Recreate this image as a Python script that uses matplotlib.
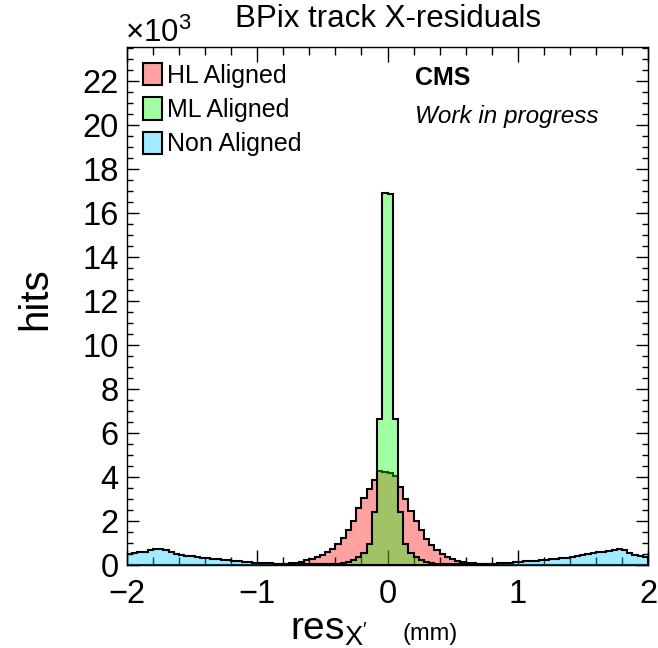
import numpy as np
import matplotlib
matplotlib.use("Agg")
import matplotlib.pyplot as plt
from matplotlib.patches import Patch
from matplotlib.ticker import MultipleLocator

plt.rcParams['font.family'] = ['Liberation Sans', 'DejaVu Sans']
plt.rcParams['mathtext.fontset'] = 'custom'
plt.rcParams['mathtext.rm'] = 'Liberation Sans'
plt.rcParams['mathtext.it'] = 'Liberation Sans:italic'
plt.rcParams['mathtext.bf'] = 'Liberation Sans:bold'

# ---- data (hits, in thousands), 100 bins of 0.04 mm from -2 to 2 ----
bin_edges = np.linspace(-2.0, 2.0, 101)

hl_aligned = [
    0.002, 0.002, 0.002, 0.002, 0.002, 0.002, 0.002, 0.002, 0.002, 0.002,
    0.004, 0.004, 0.004, 0.004, 0.004, 0.004, 0.004, 0.004, 0.004, 0.004,
    0.006, 0.007, 0.008, 0.009, 0.010, 0.012, 0.015, 0.020, 0.025, 0.035,
    0.05, 0.07, 0.10, 0.15, 0.22, 0.28, 0.36, 0.45, 0.58, 0.72,
    0.95, 1.25, 1.60, 2.00, 2.60, 3.05, 3.45, 3.85, 4.29, 4.25,
    4.20, 4.05, 3.56, 3.00, 2.45, 2.00, 1.60, 1.20, 0.90, 0.68,
    0.50, 0.38, 0.28, 0.20, 0.14, 0.10, 0.07, 0.05, 0.035, 0.025,
    0.020, 0.015, 0.012, 0.010, 0.008, 0.007, 0.006, 0.006, 0.005, 0.005,
    0.004, 0.004, 0.004, 0.004, 0.004, 0.004, 0.004, 0.004, 0.004, 0.004,
    0.002, 0.002, 0.002, 0.002, 0.002, 0.002, 0.002, 0.002, 0.002, 0.002,
]

ml_aligned = [
    0.002, 0.002, 0.002, 0.002, 0.002, 0.002, 0.002, 0.002, 0.002, 0.002,
    0.002, 0.002, 0.002, 0.002, 0.002, 0.002, 0.002, 0.002, 0.002, 0.002,
    0.003, 0.003, 0.003, 0.003, 0.003, 0.003, 0.004, 0.004, 0.004, 0.004,
    0.005, 0.005, 0.005, 0.006, 0.007, 0.008, 0.010, 0.015, 0.020, 0.030,
    0.05, 0.08, 0.13, 0.22, 0.35, 0.55, 0.95, 2.40, 6.62, 16.90,
    16.85, 6.62, 2.40, 0.95, 0.55, 0.35, 0.22, 0.13, 0.08, 0.05,
    0.030, 0.020, 0.015, 0.010, 0.008, 0.007, 0.006, 0.005, 0.005, 0.005,
    0.004, 0.004, 0.004, 0.004, 0.003, 0.003, 0.003, 0.003, 0.003, 0.003,
    0.002, 0.002, 0.002, 0.002, 0.002, 0.002, 0.002, 0.002, 0.002, 0.002,
    0.002, 0.002, 0.002, 0.002, 0.002, 0.002, 0.002, 0.002, 0.002, 0.002,
]

non_aligned = [
    0.50, 0.53, 0.57, 0.61, 0.66, 0.71, 0.72, 0.66, 0.58, 0.52,
    0.47, 0.43, 0.40, 0.37, 0.34, 0.31, 0.29, 0.27, 0.25, 0.22,
    0.20, 0.17, 0.14, 0.12, 0.10, 0.09, 0.08, 0.07, 0.06, 0.05,
    0.05, 0.04, 0.04, 0.03, 0.03, 0.03, 0.03, 0.03, 0.03, 0.03,
    0.02, 0.02, 0.02, 0.02, 0.02, 0.02, 0.02, 0.02, 0.02, 0.02,
    0.02, 0.02, 0.02, 0.02, 0.02, 0.02, 0.02, 0.02, 0.02, 0.02,
    0.03, 0.03, 0.03, 0.03, 0.03, 0.03, 0.03, 0.04, 0.04, 0.05,
    0.06, 0.07, 0.08, 0.10, 0.12, 0.14, 0.16, 0.18, 0.20, 0.22,
    0.24, 0.26, 0.28, 0.30, 0.33, 0.36, 0.40, 0.44, 0.48, 0.53,
    0.57, 0.61, 0.65, 0.68, 0.71, 0.66, 0.56, 0.47, 0.42, 0.37,
]

labels = ["HL Aligned", "ML Aligned", "Non Aligned"]
x_ticks = [-2, -1, 0, 1, 2]
y_ticks = list(range(0, 23, 2))

# ---- style ----
A = 0.37
col_hl = (1.0, 0.0, 0.0, A)
col_ml = (0.0, 1.0, 0.0, A)
col_non = (0.0, 0.78, 1.0, A)

W, H = 658, 648
fig = plt.figure(figsize=(W / 100, H / 100), dpi=100)
fig.patch.set_facecolor('white')
ax = fig.add_axes([127 / W, 1 - 565 / H, (648 - 127) / W, (565 - 46.7) / H])
ax.set_axisbelow(True)

for vals, col in [(hl_aligned, col_hl), (ml_aligned, col_ml), (non_aligned, col_non)]:
    ax.stairs(vals, bin_edges, fill=True, facecolor=col, edgecolor='none', baseline=0)
    ax.stairs(vals, bin_edges, fill=False, color='black', linewidth=1.5, baseline=0)

ax.set_xlim(-2, 2)
ax.set_ylim(0, 23.56)
ax.set_xticks(x_ticks)
ax.set_xticklabels([("\u2212%d" % abs(t)) if t < 0 else "%d" % t for t in x_ticks])
ax.set_yticks(y_ticks)
ax.xaxis.set_minor_locator(MultipleLocator(0.2))
ax.yaxis.set_minor_locator(MultipleLocator(0.5))
ax.tick_params(axis='both', which='both', direction='in', top=True, right=True,
               colors='black')
ax.tick_params(axis='both', which='major', labelsize=23.5)
ax.tick_params(axis='x', which='major', length=11, width=1, pad=10)
ax.tick_params(axis='x', which='minor', length=5.5, width=1)
ax.tick_params(axis='y', which='major', length=8.5, width=1, pad=6)
ax.tick_params(axis='y', which='minor', length=4.5, width=1)
for s in ax.spines.values():
    s.set_linewidth(1.0)

handles = [Patch(facecolor=c, edgecolor='black', linewidth=1.5) for c in (col_hl, col_ml, col_non)]
leg = ax.legend(handles, labels, loc='upper left', bbox_to_anchor=(143 / W, 1 - 63 / H),
                bbox_transform=fig.transFigure, frameon=False, fontsize=18,
                handlelength=0.76, handleheight=1.0, handletextpad=0.2,
                labelspacing=0.38, borderpad=0, borderaxespad=0)

fig.text(388 / W, 1 - 19 / H, "BPix track X-residuals", ha='center', va='center', fontsize=22.5)
fig.text(125 / W, 1 - 42 / H, r"$\times$10$^{3}$", ha='left', va='baseline', fontsize=22.5)
fig.text(415 / W, 1 - 78 / H, "CMS", ha='left', va='center', fontsize=18, fontweight='bold')
fig.text(415 / W, 1 - 116 / H, "Work in progress", ha='left', va='center', fontsize=17.5,
         style='italic')
fig.text(35 / W, 1 - 299 / H, "hits", ha='center', va='center', rotation=90, fontsize=29)
fig.text(290 / W, 1 - 640 / H, r"res$_{\mathregular{X'}}$", ha='left', va='baseline',
         fontsize=28)
fig.text(403 / W, 1 - 640 / H, "(mm)", ha='left', va='baseline', fontsize=17)

fig.savefig("out.png", dpi=100)
